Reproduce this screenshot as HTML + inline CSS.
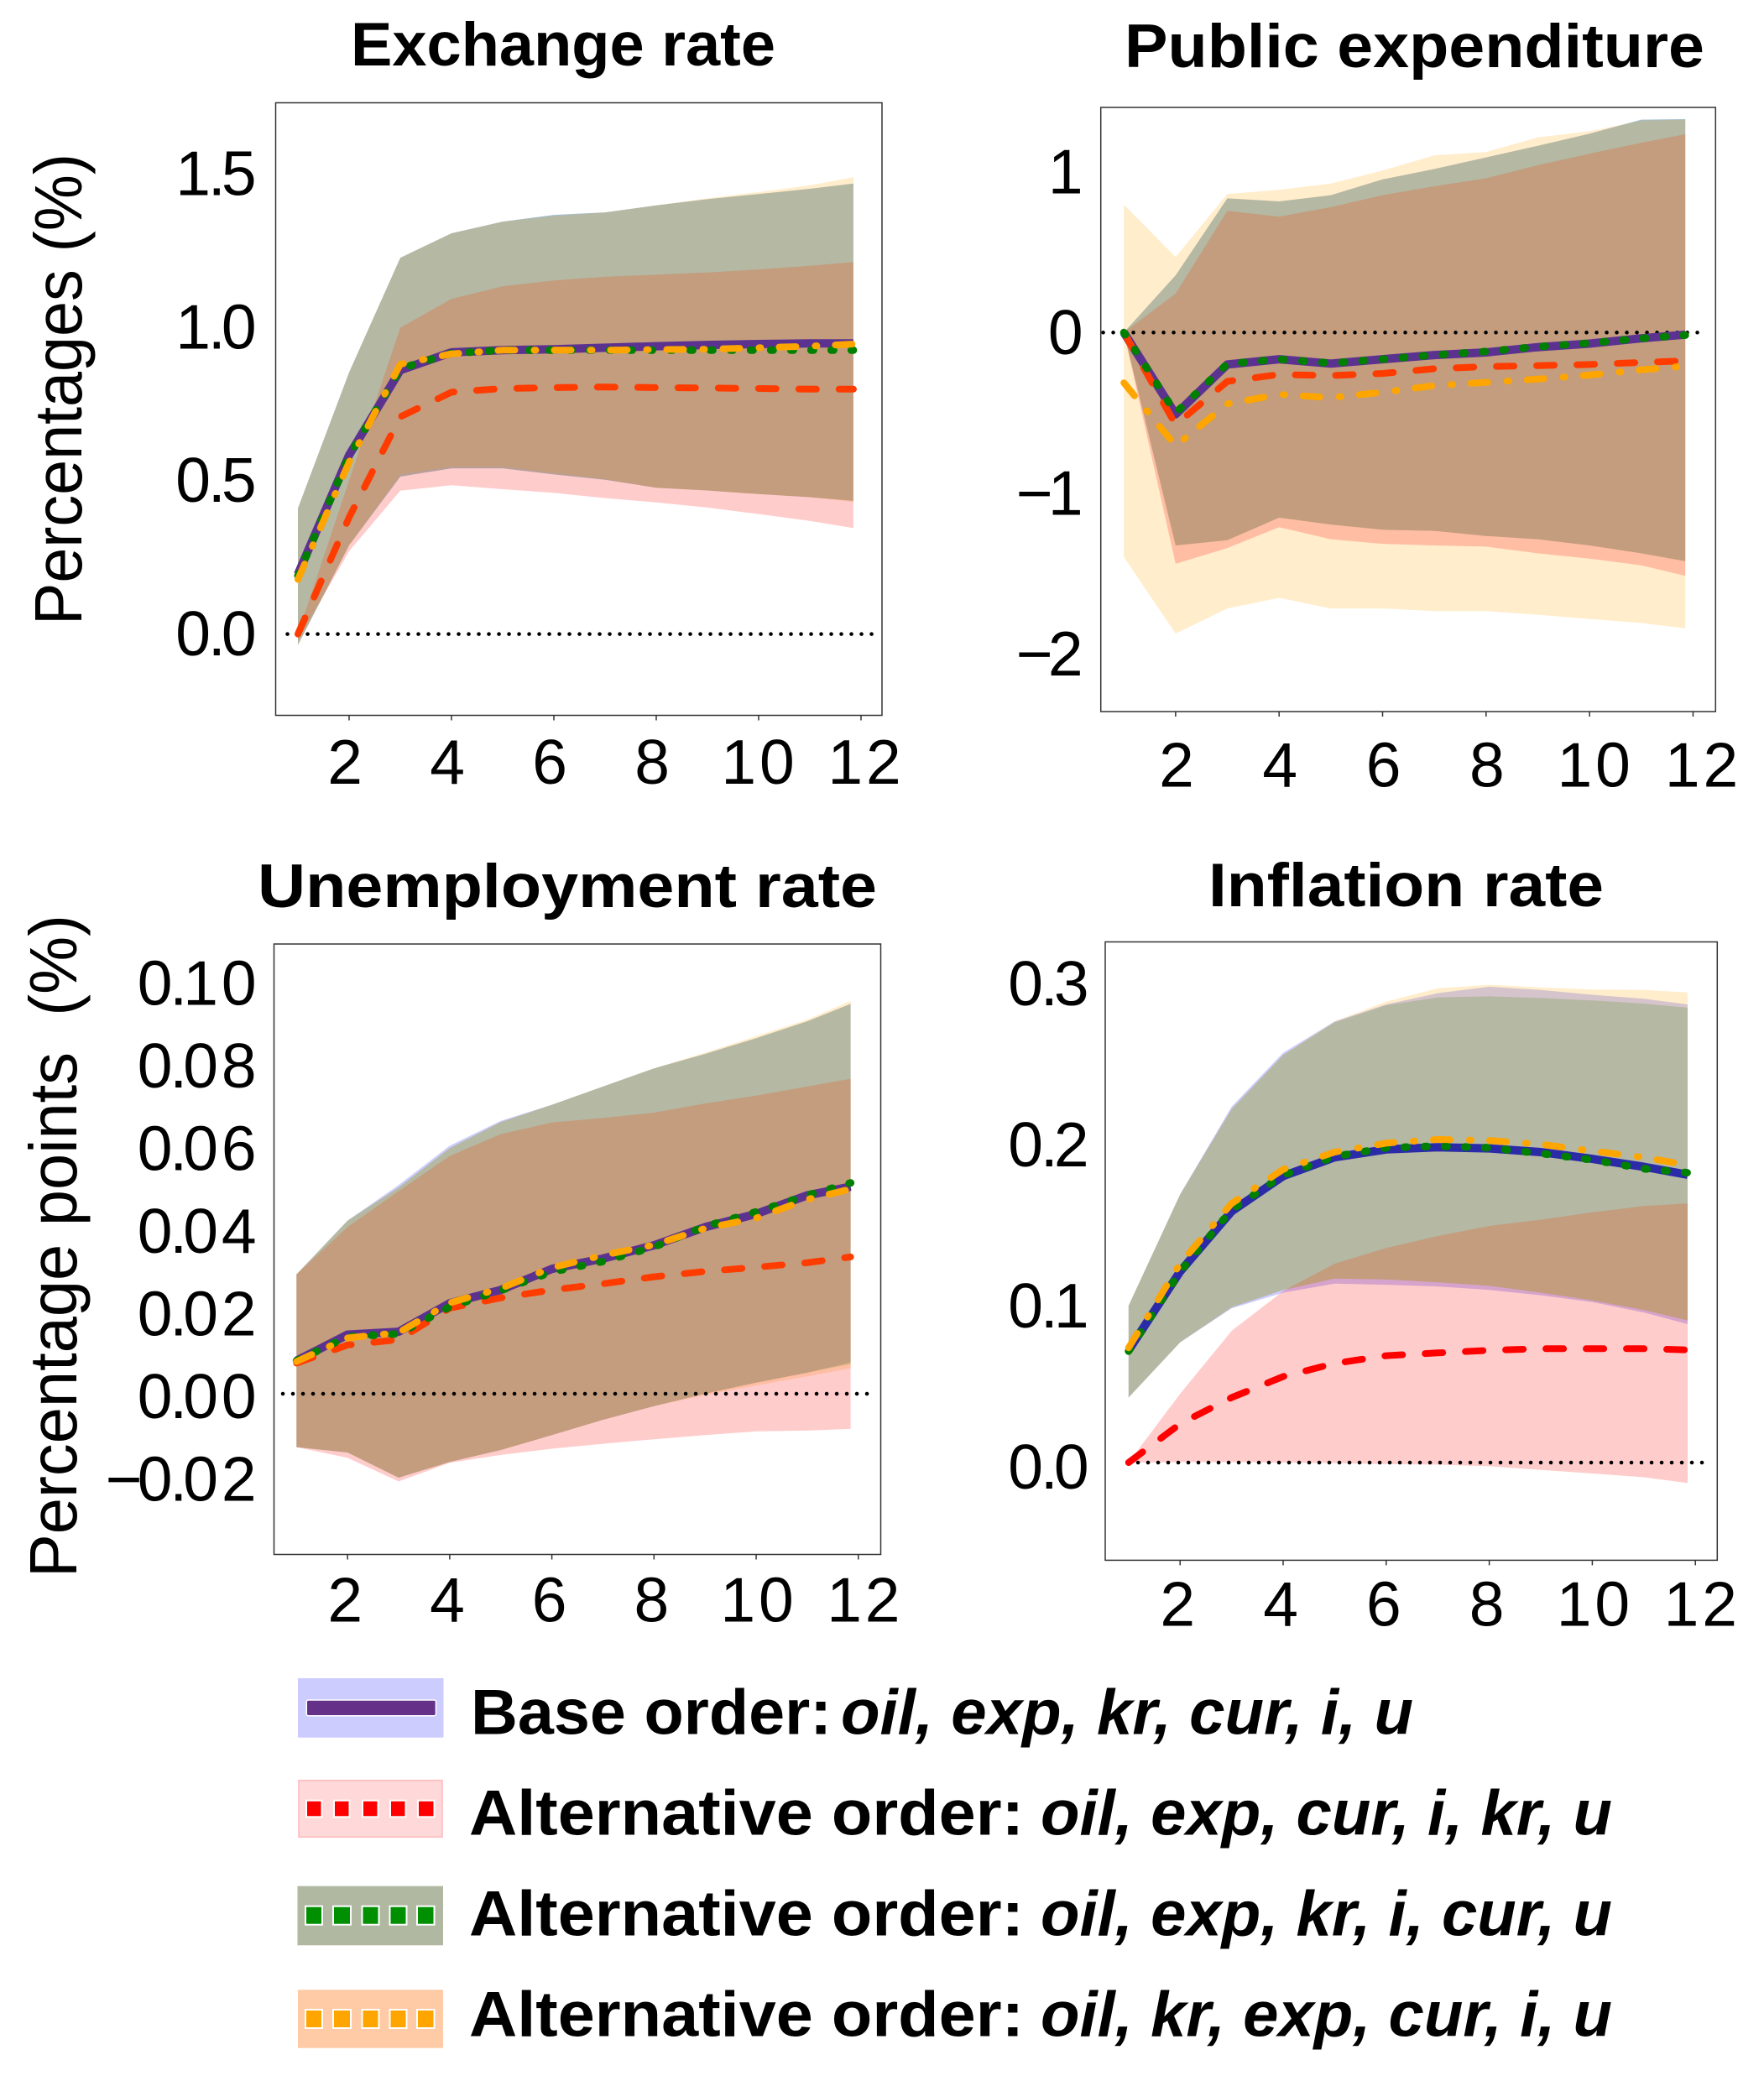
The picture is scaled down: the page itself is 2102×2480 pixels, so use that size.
<!DOCTYPE html>
<html lang="en">
<head>
<meta charset="utf-8">
<title>Impulse responses under alternative orderings</title>
<style>
html,body{margin:0;padding:0;background:#fff}
svg{display:block}
text{font-family:"Liberation Sans",sans-serif;fill:#000;white-space:pre}
.title{font-size:73px;font-weight:700}
.axis-title{font-size:80px}
.tick{font-size:75px}
.legend-label{font-size:76px;font-weight:700}
.legend-italic{font-style:italic}
.halo rect,rect.halo{paint-order:stroke}
</style>
</head>
<body>
<svg id="chart" xmlns="http://www.w3.org/2000/svg" width="2102" height="2480" viewBox="0 0 2102 2480">
  <rect x="0" y="0" width="2102" height="2480" fill="#fff"/>
  <g id="panels"></g>

  <text class="title" x="418" y="78" textLength="506" lengthAdjust="spacingAndGlyphs">Exchange rate</text>
  <text class="title" x="1340" y="80" textLength="691" lengthAdjust="spacingAndGlyphs">Public expenditure</text>
  <text class="title" x="307" y="1081" textLength="738" lengthAdjust="spacingAndGlyphs">Unemployment rate</text>
  <text class="title" x="1440" y="1080" textLength="471" lengthAdjust="spacingAndGlyphs">Inflation rate</text>

  <text class="axis-title" transform="translate(97,745) rotate(-90)" textLength="562" lengthAdjust="spacingAndGlyphs">Percentages (%)</text>
  <text class="axis-title" transform="translate(91,1880) rotate(-90)" textLength="790" lengthAdjust="spacingAndGlyphs">Percentage points  (%)</text>

  <g>
    <g>
      <rect x="355" y="2000" width="173.5" height="70.7" fill="#ccccff"/>
      <rect class="halo" x="366" y="2026.7" width="152.7" height="17.3" rx="1.5" fill="#653088" stroke="#fff" stroke-width="3"/>
      <text class="legend-label" x="561" y="2066.5" textLength="430" lengthAdjust="spacingAndGlyphs">Base order:</text>
      <text class="legend-label legend-italic" x="1002" y="2066.5" textLength="682" lengthAdjust="spacingAndGlyphs">oil, exp, kr, cur, i, u</text>
    </g>
    <g>
      <rect x="356" y="2121.7" width="171" height="67.6" fill="#ffd8d9" stroke="#ffb9bd" stroke-width="1.5"/>
      <g class="halo" fill="#ff0000" stroke="#fff" stroke-width="4">
        <rect x="366" y="2146.7" width="16.5" height="17.6"/><rect x="399" y="2146.7" width="16.5" height="17.6"/><rect x="433" y="2146.7" width="16.5" height="17.6"/><rect x="466" y="2146.7" width="16.5" height="17.6"/><rect x="499" y="2146.7" width="17.5" height="17.6"/>
      </g>
      <text class="legend-label" x="559" y="2186.5" textLength="661" lengthAdjust="spacingAndGlyphs">Alternative order:</text>
      <text class="legend-label legend-italic" x="1240" y="2186.5" textLength="681" lengthAdjust="spacingAndGlyphs">oil, exp, cur, i, kr, u</text>
    </g>
    <g>
      <rect x="354.5" y="2247.7" width="173.5" height="70.6" fill="#b1b8a1"/>
      <g class="halo" fill="#008f00" stroke="#fff" stroke-width="4">
        <rect x="365" y="2272.7" width="18" height="20"/><rect x="398" y="2272.7" width="19" height="20"/><rect x="432.5" y="2272.7" width="18" height="20"/><rect x="465.5" y="2272.7" width="18" height="20"/><rect x="498" y="2272.7" width="18.5" height="20"/>
      </g>
      <text class="legend-label" x="559" y="2306.5" textLength="661" lengthAdjust="spacingAndGlyphs">Alternative order:</text>
      <text class="legend-label legend-italic" x="1240" y="2306.5" textLength="681" lengthAdjust="spacingAndGlyphs">oil, exp, kr, i, cur, u</text>
    </g>
    <g>
      <rect x="355" y="2371.3" width="173" height="69.4" fill="#ffcba6"/>
      <g class="halo" fill="#ffa500" stroke="#fff" stroke-width="4">
        <rect x="365" y="2396" width="18" height="20"/><rect x="398" y="2396" width="19" height="20"/><rect x="432.5" y="2396" width="18" height="20"/><rect x="465.5" y="2396" width="18" height="20"/><rect x="498" y="2396" width="18.5" height="20"/>
      </g>
      <text class="legend-label" x="559" y="2426.5" textLength="661" lengthAdjust="spacingAndGlyphs">Alternative order:</text>
      <text class="legend-label legend-italic" x="1240" y="2426.5" textLength="681" lengthAdjust="spacingAndGlyphs">oil, kr, exp, cur, i, u</text>
    </g>
  </g>
</svg>
<script>
// ---- shared categories and tick labels ----
const months = [1,2,3,4,5,6,7,8,9,10,11,11.85];
const xTickValues = [2,4,6,8,10,12];
const exchangeYTicks = ["0.0","0.5","1.0","1.5"];
const expenditureYTicks = ["\u22122","\u22121","0","1"];
const unemploymentYTicks = ["\u22120.02","0.00","0.02","0.04","0.06","0.08","0.10"];
const inflationYTicks = ["0.0","0.1","0.2","0.3"];

// ---- Exchange rate ----
const exchangeBaseLine = [.195,.583,.86,.918,.925,.928,.933,.938,.942,.945,.947,.947];
const exchangeRedLine = [0,.38,.708,.788,.80,.803,.805,.803,.802,.80,.798,.798];
const exchangeGreenLine = [.19,.58,.865,.915,.925,.925,.925,.925,.925,.925,.925,.925];
const exchangeOrangeLine = [.178,.56,.879,.913,.925,.925,.925,.927,.928,.933,.938,.945];
const exchangeBaseUpper = [.41,.853,1.226,1.306,1.344,1.366,1.374,1.397,1.417,1.434,1.451,1.468];
const exchangeBaseLower = [-.036,.289,.513,.54,.54,.52,.503,.477,.468,.456,.446,.434];
const exchangeRedUpper = [0,.5,.998,1.092,1.133,1.152,1.164,1.171,1.178,1.188,1.2,1.212];
const exchangeRedLower = [-.02,.27,.467,.485,.472,.46,.443,.429,.412,.391,.369,.345];
const exchangeGreenUpper = [.41,.853,1.226,1.306,1.344,1.366,1.374,1.397,1.417,1.434,1.451,1.468];
const exchangeGreenLower = [-.036,.289,.513,.54,.54,.52,.503,.477,.468,.456,.446,.434];
const exchangeOrangeUpper = [.41,.853,1.226,1.306,1.344,1.362,1.374,1.397,1.42,1.44,1.462,1.489];
const exchangeOrangeLower = [-.036,.289,.52,.545,.545,.525,.505,.477,.468,.456,.446,.43];

// ---- Public expenditure ----
const expenditureBaseLine = [0,-.509,-.199,-.166,-.193,-.166,-.14,-.124,-.091,-.069,-.036,-.013];
const expenditureRedLine = [0,-.574,-.304,-.261,-.268,-.255,-.225,-.212,-.206,-.199,-.186,-.176];
const expenditureGreenLine = [0,-.5,-.195,-.166,-.19,-.166,-.14,-.118,-.088,-.066,-.036,-.016];
const expenditureOrangeLine = [-.313,-.705,-.444,-.385,-.405,-.372,-.33,-.31,-.29,-.264,-.232,-.209];
const expenditureBaseUpper = [0,.356,.835,.816,.855,.953,1.018,1.09,1.162,1.237,1.325,1.328];
const expenditureBaseLower = [0,-1.325,-1.292,-1.152,-1.195,-1.227,-1.234,-1.266,-1.286,-1.325,-1.374,-1.423];
const expenditureRedUpper = [0,.242,.757,.721,.78,.855,.91,.96,1.041,1.113,1.181,1.234];
const expenditureRedLower = [0,-1.439,-1.341,-1.211,-1.286,-1.315,-1.325,-1.332,-1.374,-1.407,-1.449,-1.514];
const expenditureGreenUpper = [0,.356,.835,.816,.855,.953,1.018,1.09,1.162,1.237,1.325,1.328];
const expenditureGreenLower = [0,-1.325,-1.292,-1.152,-1.195,-1.227,-1.234,-1.266,-1.286,-1.325,-1.374,-1.423];
const expenditureOrangeUpper = [.796,.47,.862,.888,.927,1.008,1.103,1.123,1.214,1.253,1.318,1.325];
const expenditureOrangeLower = [-1.397,-1.873,-1.717,-1.651,-1.717,-1.717,-1.733,-1.733,-1.756,-1.782,-1.808,-1.841];

// ---- Unemployment rate ----
const unemploymentBaseLine = [.008,.0143,.015,.0219,.0251,.0302,.0327,.0359,.0403,.0435,.048,.0501];
const unemploymentRedLine = [.0074,.0118,.0131,.0207,.0232,.0251,.0266,.0283,.0296,.0306,.0317,.0331];
const unemploymentGreenLine = [.008,.0138,.0145,.021,.025,.0295,.032,.0355,.0405,.044,.048,.051];
const unemploymentOrangeLine = [.0078,.0135,.0148,.022,.0255,.0305,.0335,.036,.04,.0425,.047,.0495];
const unemploymentBaseUpper = [.0289,.0419,.0505,.06,.066,.0699,.0743,.0787,.0822,.086,.0901,.0943];
const unemploymentBaseLower = [-.0129,-.0142,-.0203,-.0165,-.0136,-.01,-.0063,-.003,0,.0027,.0051,.0076];
const unemploymentRedUpper = [.0289,.0403,.049,.0575,.0628,.0656,.0667,.068,.0702,.0721,.0743,.0762];
const unemploymentRedLower = [-.0129,-.0155,-.0212,-.0167,-.0148,-.0133,-.0121,-.011,-.01,-.0091,-.0089,-.0085];
const unemploymentGreenUpper = [.0289,.0419,.0499,.0594,.0657,.0699,.0743,.0787,.0822,.086,.0901,.0943];
const unemploymentGreenLower = [-.0129,-.0142,-.0203,-.0165,-.0136,-.01,-.0063,-.003,0,.0027,.0051,.0072];
const unemploymentOrangeUpper = [.0289,.0419,.0499,.0594,.0657,.0699,.0743,.0787,.0825,.0865,.0905,.095];
const unemploymentOrangeLower = [-.0129,-.0142,-.0203,-.0165,-.0136,-.01,-.0063,-.003,-.0003,.002,.0042,.0062];

// ---- Inflation rate ----
const inflationBaseLine = [.0697,.1186,.156,.1779,.1896,.1945,.1958,.1951,.1928,.1886,.1837,.1788];
const inflationRedLine = [0,.0241,.0404,.0534,.0616,.0664,.0681,.0697,.0707,.0707,.0707,.07];
const inflationGreenLine = [.0692,.1186,.157,.1785,.19,.1955,.1965,.1955,.192,.188,.1825,.18];
const inflationOrangeLine = [.0713,.1235,.1609,.1821,.1928,.1984,.2007,.2,.1977,.1935,.1896,.1847];
const inflationBaseUpper = [.0974,.1665,.221,.2545,.274,.2845,.2915,.2955,.2935,.2905,.288,.2845];
const inflationBaseLower = [.0404,.0746,.0958,.1055,.1111,.1104,.1094,.1072,.1039,.0997,.0932,.086];
const inflationRedUpper = [0,.0427,.0818,.1065,.1235,.1332,.1407,.1469,.1508,.1554,.1593,.1609];
const inflationRedLower = [0,.0003,.0003,0,-.0003,-.001,-.0013,-.0023,-.0046,-.0068,-.0091,-.0127];
const inflationGreenUpper = [.0974,.1665,.2195,.2531,.2733,.284,.2889,.2895,.2885,.287,.285,.2825];
const inflationGreenLower = [.0404,.0746,.0964,.1072,.1143,.1137,.112,.1098,.1055,.1007,.0948,.0883];
const inflationOrangeUpper = [.0974,.1665,.2195,.2531,.274,.2863,.2945,.2967,.2951,.2938,.2935,.2919];
const inflationOrangeLower = [.0404,.0746,.0964,.1072,.1143,.1137,.112,.1098,.1055,.1007,.0948,.0883];

const SVGNS = "http://www.w3.org/2000/svg";
const panelsRoot = document.getElementById("panels");

function makeEl(tag, attrs, parent) {
  const el = document.createElementNS(SVGNS, tag);
  for (const k in attrs) el.setAttribute(k, attrs[k]);
  parent.appendChild(el);
  return el;
}
function linePath(xs, ys, sx, sy) {
  return xs.map((x, i) => (i ? "L" : "M") + sx(x).toFixed(1) + " " + sy(ys[i]).toFixed(1)).join("");
}
function bandPath(xs, up, lo, sx, sy) {
  let d = linePath(xs, up, sx, sy);
  for (let i = xs.length - 1; i >= 0; i--) d += "L" + sx(xs[i]).toFixed(1) + " " + sy(lo[i]).toFixed(1);
  return d + "Z";
}
// Per-character advances keep the narrow figure spacing of the labels.
function glyphOffsets(s) {
  const offsets = [];
  let cur = 0;
  for (const c of s) {
    if (c === ".") { offsets.push(cur - 7); cur += 9; }
    else if (c === "\u2212") { offsets.push(cur); cur += 38; }
    else { offsets.push(cur); cur += 45.6; }
  }
  return {offsets, width: cur};
}
function xLabelShift(t, base) {
  return base + (t === 10 ? 4 : t === 12 ? 9 : 0);
}

function drawPanel(cfg) {
  const g = makeEl("g", {}, panelsRoot);
  
  
  const sx = v => cfg.x1 + (v - 1) * cfg.xUnit;
  const sy = v => cfg.y0 - v * cfg.yUnit;

  const frame = makeEl("rect", {x: cfg.left, y: cfg.top, width: cfg.right - cfg.left, height: cfg.bottom - cfg.top, fill: "#fff", stroke: "#333", "stroke-width": 1.5}, g);
  
  

  for (const band of cfg.bands) {
    const p = makeEl("path", {d: bandPath(months, band.upper, band.lower, sx, sy), fill: band.color, "fill-opacity": 0.2}, g);
    
    
  }

  // Overlap of the red band with the green band is slightly more tan than plain alpha stacking.
  const greenBand = cfg.bands[1];
  const redBand = cfg.bands[3];
  const clip = makeEl("clipPath", {id: cfg.name + "-green-clip"}, g);
  makeEl("path", {d: bandPath(months, greenBand.upper, greenBand.lower, sx, sy)}, clip);
  const overlap = makeEl("path", {d: bandPath(months, redBand.upper, redBand.lower, sx, sy), fill: "rgb(196,247,90)", "fill-opacity": 0.1, "clip-path": "url(#" + cfg.name + "-green-clip)"}, g);
  
  

  const zero = makeEl("line", {x1: cfg.zeroFrom, x2: cfg.zeroTo, y1: sy(0), y2: sy(0), stroke: "#000", "stroke-width": 4.5, "stroke-linecap": "round", "stroke-dasharray": "0.1 11.9"}, g);
  
  

  for (const s of cfg.lines) {
    const p = makeEl("path", {d: linePath(months, s.values, sx, sy), fill: "none", stroke: s.color, "stroke-width": s.width, "stroke-linecap": s.dash ? "round" : "butt", "stroke-linejoin": "round"}, g);
    if (s.dash) p.setAttribute("stroke-dasharray", s.dash);
    
    
  }

  for (const t of xTickValues) {
    const tick = makeEl("line", {x1: sx(t), x2: sx(t), y1: cfg.bottom, y2: cfg.bottom + 6, stroke: "#333", "stroke-width": 1.5}, g);
    
    
    const label = String(t);
    const layout = glyphOffsets(label);
    const start = sx(t) + xLabelShift(t, cfg.xLabelBase) - layout.width / 2 + 2;
    const txt = makeEl("text", {class: "tick", x: layout.offsets.map(o => (start + o).toFixed(1)).join(" "), y: cfg.xLabelY}, g);
    txt.textContent = label;
    
    
  }

  for (const label of cfg.yTicks) {
    const value = parseFloat(label.replace("\u2212", "-"));
    const layout = glyphOffsets(label);
    const start = cfg.yLabelRight + 5.5 - layout.width;
    const txt = makeEl("text", {class: "tick", x: layout.offsets.map(o => (start + o).toFixed(1)).join(" "), y: sy(value) + cfg.yLabelOffset}, g);
    txt.textContent = label;
    
    
  }
}

function bandSet(bu, bl, ru, rl, gu, gl, ou, ol) {
  return [
    {key: "base", color: "#0000ff", upper: bu, lower: bl},
    {key: "green", color: "#008000", upper: gu, lower: gl},
    {key: "orange", color: "#ffa500", upper: ou, lower: ol},
    {key: "red", color: "#ff0000", upper: ru, lower: rl}
  ];
}
function lineSet(b, r, gr, o, baseColor, redColor) {
  return [
    {key: "base", values: b, color: baseColor, width: 10},
    {key: "red", values: r, color: redColor, width: 8, dash: "21 27"},
    {key: "green", values: gr, color: "#008000", width: 9, dash: "3 21"},
    {key: "orange", values: o, color: "#ffa500", width: 8, dash: "20 23 2 22"}
  ];
}

drawPanel({
  name: "exchange-rate", left: 328.5, right: 1051, top: 122.5, bottom: 852.5,
  x1: 355, xUnit: 61, y0: 755.6, yUnit: 365.7, zeroFrom: 342.5, zeroTo: 1040,
  xLabelBase: -5, xLabelY: 934, yLabelRight: 304, yLabelOffset: 25.4, yTicks: exchangeYTicks,
  bands: bandSet(exchangeBaseUpper, exchangeBaseLower, exchangeRedUpper, exchangeRedLower, exchangeGreenUpper, exchangeGreenLower, exchangeOrangeUpper, exchangeOrangeLower),
  lines: lineSet(exchangeBaseLine, exchangeRedLine, exchangeGreenLine, exchangeOrangeLine, "#5c3290", "#ff3c00")
});
drawPanel({
  name: "public-expenditure", left: 1311.7, right: 2044.3, top: 128, bottom: 848,
  x1: 1339.2, xUnit: 61.66, y0: 396.3, yUnit: 191.5, zeroFrom: 1314.5, zeroTo: 2033,
  xLabelBase: 1, xLabelY: 937.5, yLabelRight: 1289, yLabelOffset: 25.6, yTicks: expenditureYTicks,
  bands: bandSet(expenditureBaseUpper, expenditureBaseLower, expenditureRedUpper, expenditureRedLower, expenditureGreenUpper, expenditureGreenLower, expenditureOrangeUpper, expenditureOrangeLower),
  lines: lineSet(expenditureBaseLine, expenditureRedLine, expenditureGreenLine, expenditureOrangeLine, "#5c3290", "#ff3c00")
});
drawPanel({
  name: "unemployment-rate", left: 326.5, right: 1049.5, top: 1125, bottom: 1852.5,
  x1: 353.3, xUnit: 60.86, y0: 1661, yUnit: 4927, zeroFrom: 337, zeroTo: 1034,
  xLabelBase: -3, xLabelY: 1932.5, yLabelRight: 304, yLabelOffset: 29, yTicks: unemploymentYTicks,
  bands: bandSet(unemploymentBaseUpper, unemploymentBaseLower, unemploymentRedUpper, unemploymentRedLower, unemploymentGreenUpper, unemploymentGreenLower, unemploymentOrangeUpper, unemploymentOrangeLower),
  lines: lineSet(unemploymentBaseLine, unemploymentRedLine, unemploymentGreenLine, unemploymentOrangeLine, "#5c3290", "#ff3c00")
});
drawPanel({
  name: "inflation-rate", left: 1317, right: 2046.3, top: 1122.5, bottom: 1859.4,
  x1: 1344.8, xUnit: 61.4, y0: 1743, yUnit: 1919, zeroFrom: 1344, zeroTo: 2033,
  xLabelBase: -3, xLabelY: 1937.5, yLabelRight: 1296, yLabelOffset: 30.8, yTicks: inflationYTicks,
  bands: bandSet(inflationBaseUpper, inflationBaseLower, inflationRedUpper, inflationRedLower, inflationGreenUpper, inflationGreenLower, inflationOrangeUpper, inflationOrangeLower),
  lines: lineSet(inflationBaseLine, inflationRedLine, inflationGreenLine, inflationOrangeLine, "#2b2ba8", "#ff0000")
});
</script>
</body>
</html>
